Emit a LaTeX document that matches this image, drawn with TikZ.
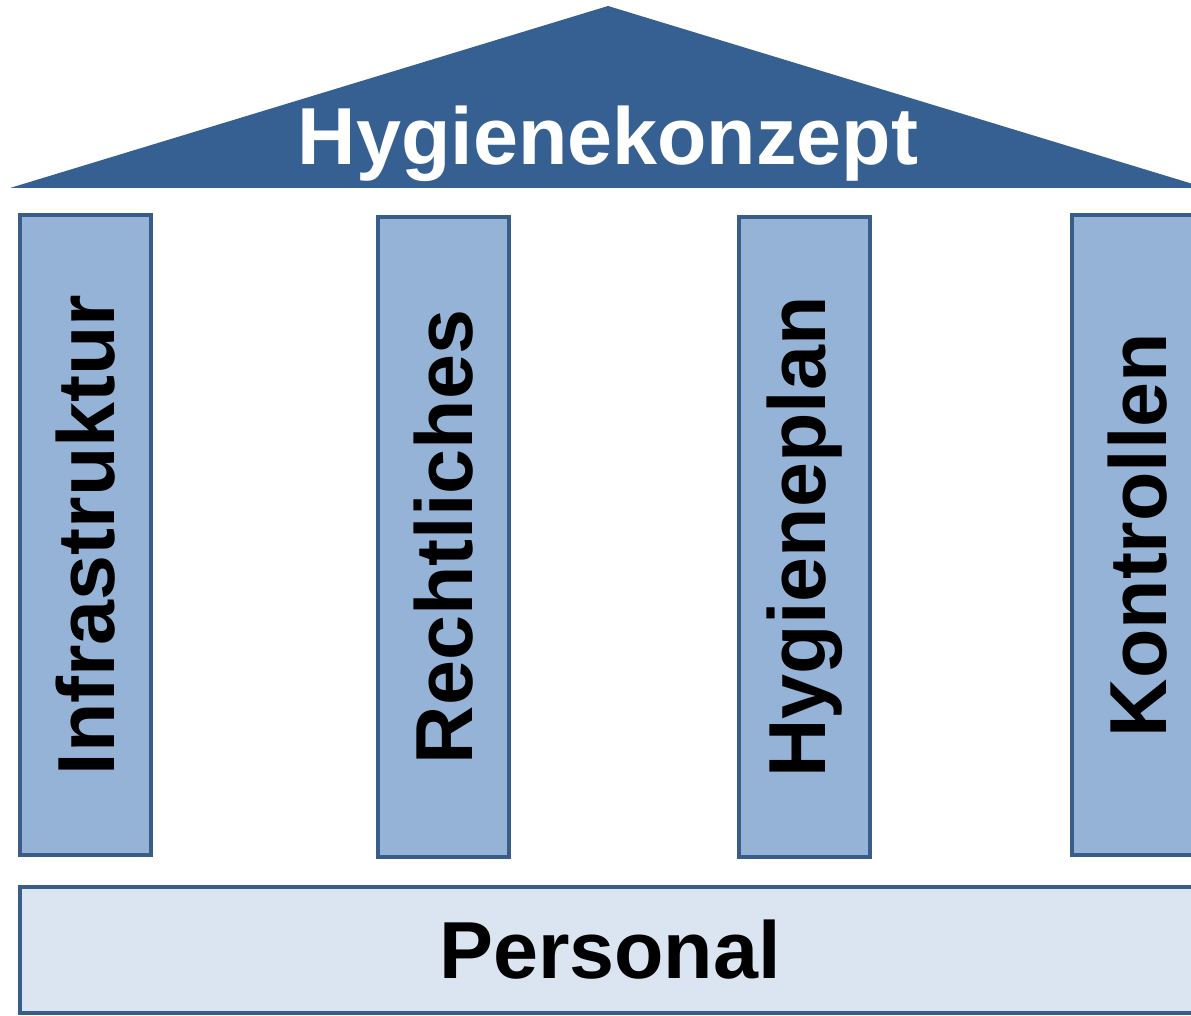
\documentclass[tikz,border=0pt]{standalone}
\usepackage{fontspec}
\setmainfont{Liberation Sans}
\definecolor{roofblue}{HTML}{366092}
\definecolor{pillarblue}{HTML}{95B3D7}
\definecolor{edgeblue}{HTML}{385D8A}
\definecolor{baseblue}{HTML}{DBE5F1}
\begin{document}
\begin{tikzpicture}[x=0.01cm, y=-0.01cm,
    every node/.style={font=\fontsize{23}{28}\selectfont\bfseries, inner sep=0pt},
    pillar/.style={draw=edgeblue, fill=pillarblue, line width=1.1pt, rotate=90,
      minimum width=6.40cm, minimum height=1.31cm},
    plinth/.style={draw=edgeblue, fill=baseblue, line width=1.1pt,
      minimum width=11.80cm, minimum height=1.26cm}]
      \useasboundingbox (0,0) rectangle (1191,1016);
      \clip (0,0) rectangle (1191,1016);
      % roof
      \fill[roofblue] (10,188) -- (608,6) -- (1206,188) -- cycle;
      \node (roof) at (608,165) [anchor=base, text=white] {Hygienekonzept};
      % pillars
      \node (1) at (85.5,535) [pillar] {Infrastruktur};
      \node (2) at (443.5,537) [pillar] {Rechtliches};
      \node (3) at (804.5,537) [pillar] {Hygieneplan};
      \node (4) at (1137.5,535) [pillar] {Kontrollen};
      % base
      \node (base) at (610,950) [plinth] {Personal};
    \end{tikzpicture}
\end{document}
